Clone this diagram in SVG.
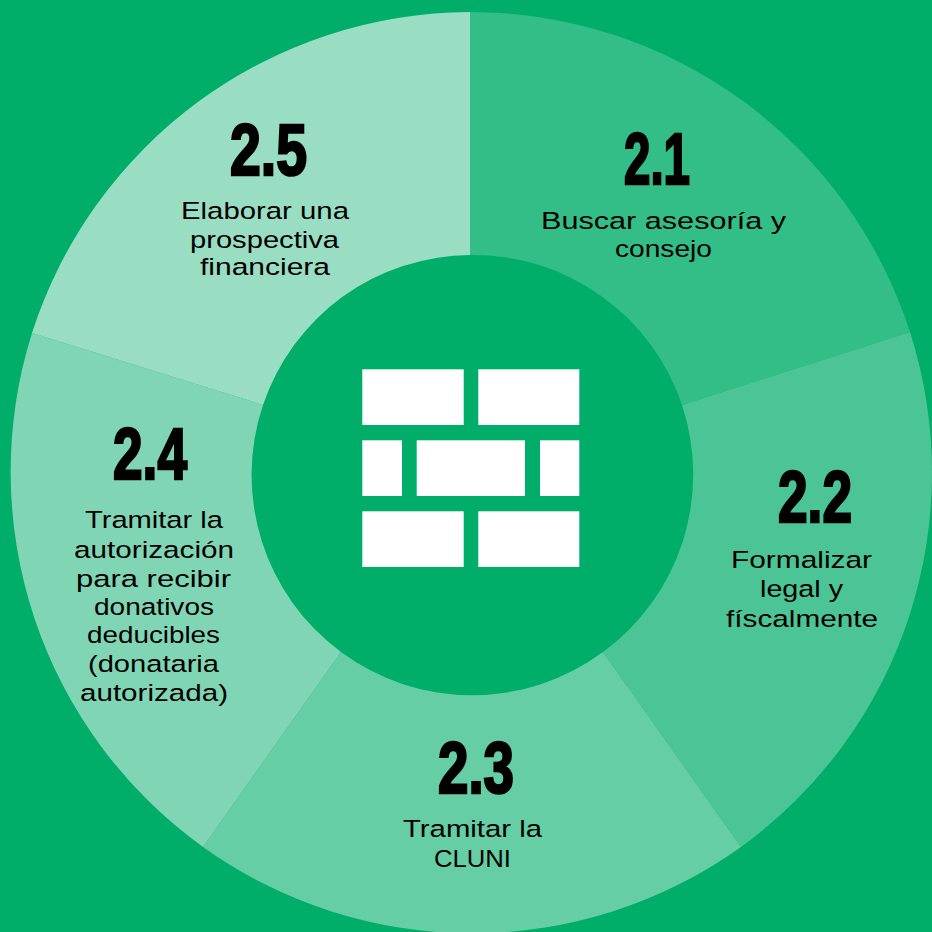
<svg xmlns="http://www.w3.org/2000/svg" width="932" height="932" viewBox="0 0 932 932">
<style>
.num{font-family:"Liberation Sans",Arial,sans-serif;font-weight:700;font-size:72px;fill:#000;stroke:#000;stroke-width:2.6px;stroke-linejoin:miter}
.txt{font-family:"Liberation Sans",Arial,sans-serif;font-weight:400;font-size:24.5px;fill:#000}
.brick{fill:#fff}
</style>
<rect width="932" height="932" fill="#00ad69"/>
<g id="seg-2-1">
<path d="M470 12A462 462 0 0 1 910 332L682 405A220 220 0 0 0 470 255Z" fill="#33bd87"/>
<text class="num" x="624" y="184" textLength="66" lengthAdjust="spacingAndGlyphs">2.1</text>
<text class="txt" x="541" y="229" textLength="245" lengthAdjust="spacingAndGlyphs">Buscar asesoría y</text>
<text class="txt" x="615" y="257" textLength="97" lengthAdjust="spacingAndGlyphs">consejo</text>
</g>
<g id="seg-2-2">
<path d="M910 332A462 462 0 0 1 741 847L603 652A220 220 0 0 0 682 405Z" fill="#4cc596"/>
<text class="num" x="778" y="522" textLength="74" lengthAdjust="spacingAndGlyphs">2.2</text>
<text class="txt" x="731" y="568" textLength="141" lengthAdjust="spacingAndGlyphs">Formalizar</text>
<text class="txt" x="760" y="597" textLength="83" lengthAdjust="spacingAndGlyphs">legal y</text>
<text class="txt" x="726" y="627" textLength="152" lengthAdjust="spacingAndGlyphs">físcalmente</text>
</g>
<g id="seg-2-3">
<path d="M741 847A462 462 0 0 1 203 847L341 652A220 220 0 0 0 603 652Z" fill="#66cea5"/>
<text class="num" x="438" y="793" textLength="76" lengthAdjust="spacingAndGlyphs">2.3</text>
<text class="txt" x="403" y="837" textLength="139" lengthAdjust="spacingAndGlyphs">Tramitar la</text>
<text class="txt" x="434" y="867" textLength="77" lengthAdjust="spacingAndGlyphs">CLUNI</text>
</g>
<g id="seg-2-4">
<path d="M203 847A462 462 0 0 1 32 333L263 405A220 220 0 0 0 341 652Z" fill="#80d6b4"/>
<text class="num" x="113" y="479" textLength="74" lengthAdjust="spacingAndGlyphs">2.4</text>
<text class="txt" x="85" y="528" textLength="138" lengthAdjust="spacingAndGlyphs">Tramitar la</text>
<text class="txt" x="74" y="558" textLength="160" lengthAdjust="spacingAndGlyphs">autorización</text>
<text class="txt" x="76" y="587" textLength="155" lengthAdjust="spacingAndGlyphs">para recibir</text>
<text class="txt" x="94" y="615" textLength="120" lengthAdjust="spacingAndGlyphs">donativos</text>
<text class="txt" x="87" y="643" textLength="133" lengthAdjust="spacingAndGlyphs">deducibles</text>
<text class="txt" x="88" y="672" textLength="131" lengthAdjust="spacingAndGlyphs">(donataria</text>
<text class="txt" x="80" y="701" textLength="148" lengthAdjust="spacingAndGlyphs">autorizada)</text>
</g>
<g id="seg-2-5">
<path d="M32 333A462 462 0 0 1 470 12V255A220 220 0 0 0 263 405Z" fill="#99dec3"/>
<text class="num" x="230" y="175" textLength="77" lengthAdjust="spacingAndGlyphs">2.5</text>
<text class="txt" x="181" y="219" textLength="168" lengthAdjust="spacingAndGlyphs">Elaborar una</text>
<text class="txt" x="190" y="248" textLength="149" lengthAdjust="spacingAndGlyphs">prospectiva</text>
<text class="txt" x="200" y="275" textLength="130" lengthAdjust="spacingAndGlyphs">financiera</text>
</g>
<g id="bricks">
<rect class="brick" x="362.3" y="369.3" width="101.4" height="55.7"/>
<rect class="brick" x="478.3" y="369.3" width="101" height="55.7"/>
<rect class="brick" x="362.3" y="440.3" width="39.7" height="55.7"/>
<rect class="brick" x="416.7" y="440.3" width="108.3" height="55.7"/>
<rect class="brick" x="540" y="440.3" width="39.3" height="55.7"/>
<rect class="brick" x="362.3" y="511.3" width="101.4" height="55.7"/>
<rect class="brick" x="478.3" y="511.3" width="101" height="55.7"/>
</g>
</svg>
